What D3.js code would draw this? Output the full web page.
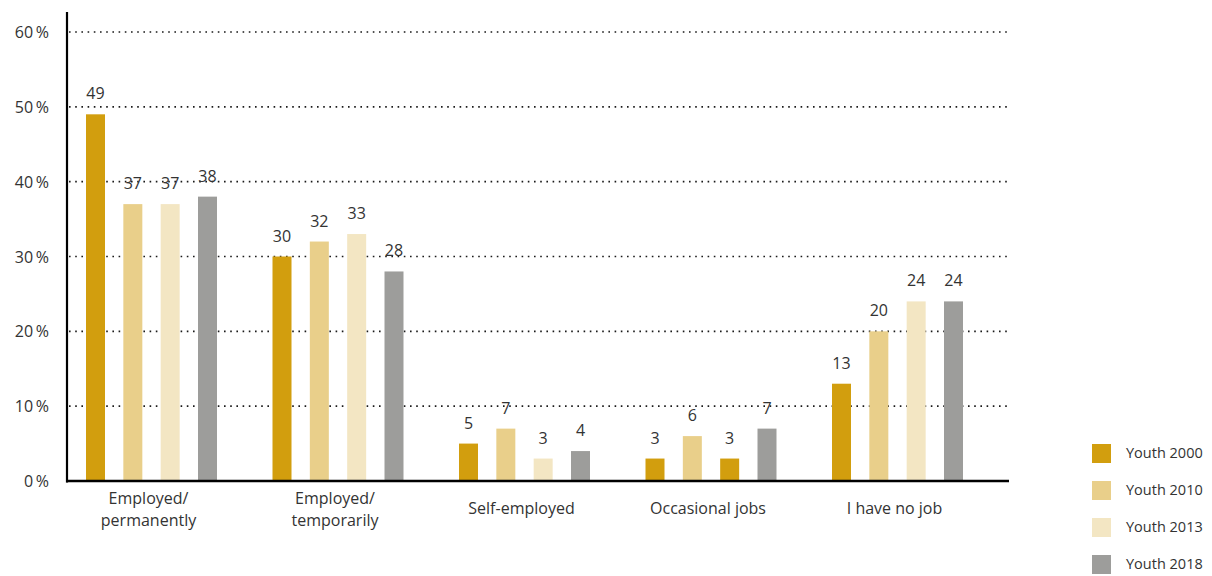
<!DOCTYPE html>
<html>
<head>
<meta charset="utf-8">
<script src="https://cdn.jsdelivr.net/npm/d3@7"></script>
<style>
  html, body { margin: 0; padding: 0; background: #fff; }
  svg { display: block; font-family: "Open Sans", "Noto Sans", sans-serif; }
</style>
</head>
<body>
<svg id="chart" width="1212" height="576"></svg>
<script>
// Employment status of young people, by survey wave (percent)
const categories = [
  ["Employed/", "permanently"],
  ["Employed/", "temporarily"],
  ["Self-employed"],
  ["Occasional jobs"],
  ["I have no job"]
];
const seriesNames = ["Youth 2000", "Youth 2010", "Youth 2013", "Youth 2018"];
const youth2000 = [49, 30, 5, 3, 13];
const youth2010 = [37, 32, 7, 6, 20];
const youth2013 = [37, 33, 3, 3, 24];
const youth2018 = [38, 28, 4, 7, 24];
const yTicks = [0, 10, 20, 30, 40, 50, 60];
const seriesColors = ["#D29E0E", "#E9CF8A", "#F3E6C3", "#9D9D9B"];
// the 2013 "Occasional jobs" bar is printed in the 2000 tone
const colorOverrides = [{ cat: 3, series: 2, color: "#D29E0E" }];

const seriesValues = [youth2000, youth2010, youth2013, youth2018];
const catKeys = categories.map(c => c.join(" "));

const svg = d3.select("#chart");
const axisLeft = 67, plotRight = 1009, yZero = 481, yTop = 32;

const y = d3.scaleLinear().domain([0, 60]).range([yZero, yTop]);
const x0 = d3.scaleBand().domain(catKeys).range([58.25, 58.25 + 186.5 * 5]);
const x1 = d3.scalePoint().domain(seriesNames).range([-56, 56]);
const barW = 19;
const fs = 16;
const textColor = "#333";

// dotted gridlines
svg.append("g").selectAll("line")
  .data(yTicks.filter(t => t > 0))
  .join("line")
  .attr("x1", axisLeft + 2).attr("x2", plotRight)
  .attr("y1", d => y(d)).attr("y2", d => y(d))
  .attr("stroke", "#1a1a1a").attr("stroke-width", 1.6)
  .attr("stroke-dasharray", "1.6,4.6");

// y tick labels
svg.append("g").selectAll("text")
  .data(yTicks)
  .join("text")
  .attr("x", 49).attr("y", d => y(d) + 6)
  .attr("text-anchor", "end")
  .attr("font-size", fs).attr("fill", textColor)
  .text(d => d + "\u2009%");

// bars
const groups = svg.append("g").selectAll("g")
  .data(catKeys)
  .join("g")
  .attr("transform", d => `translate(${x0(d) + x0.bandwidth() / 2},0)`);

groups.selectAll("rect")
  .data((d, ci) => seriesNames.map((s, si) => ({ ci, si, s, v: seriesValues[si][ci] })))
  .join("rect")
  .attr("x", d => x1(d.s) - barW / 2)
  .attr("width", barW)
  .attr("y", d => y(d.v))
  .attr("height", d => yZero - y(d.v))
  .attr("fill", d => {
    const o = colorOverrides.find(c => c.cat === d.ci && c.series === d.si);
    return o ? o.color : seriesColors[d.si];
  });

// value labels
groups.selectAll("text.val")
  .data((d, ci) => seriesNames.map((s, si) => ({ s, v: seriesValues[si][ci] })))
  .join("text")
  .attr("class", "val")
  .attr("x", d => x1(d.s))
  .attr("y", d => y(d.v) - 15)
  .attr("text-anchor", "middle")
  .attr("font-size", fs).attr("fill", textColor)
  .text(d => d.v);

// axes lines
svg.append("line")
  .attr("x1", axisLeft).attr("x2", axisLeft)
  .attr("y1", 12).attr("y2", yZero + 1.5)
  .attr("stroke", "#000").attr("stroke-width", 2.2);
svg.append("line")
  .attr("x1", axisLeft - 1).attr("x2", plotRight)
  .attr("y1", yZero).attr("y2", yZero)
  .attr("stroke", "#000").attr("stroke-width", 2.6);

// category labels (one text element per line)
const catLabels = svg.append("g").selectAll("g")
  .data(categories)
  .join("g")
  .attr("transform", (d, i) => `translate(${x0(catKeys[i]) + x0.bandwidth() / 2 - 3},${d.length > 1 ? 504 : 514})`);
catLabels.selectAll("text")
  .data(d => d)
  .join("text")
  .attr("y", (d, i) => i * 22)
  .attr("text-anchor", "middle")
  .attr("font-size", fs).attr("fill", textColor)
  .text(d => d);

// legend
const legend = svg.append("g").selectAll("g")
  .data(seriesNames)
  .join("g")
  .attr("transform", (d, i) => `translate(1092,${444 + i * 37})`);
legend.append("rect")
  .attr("width", 19).attr("height", 19)
  .attr("fill", (d, i) => seriesColors[i]);
legend.append("text")
  .attr("x", 34).attr("y", 14)
  .attr("font-size", 14.5).attr("fill", textColor)
  .text(d => d);
</script>
</body>
</html>
